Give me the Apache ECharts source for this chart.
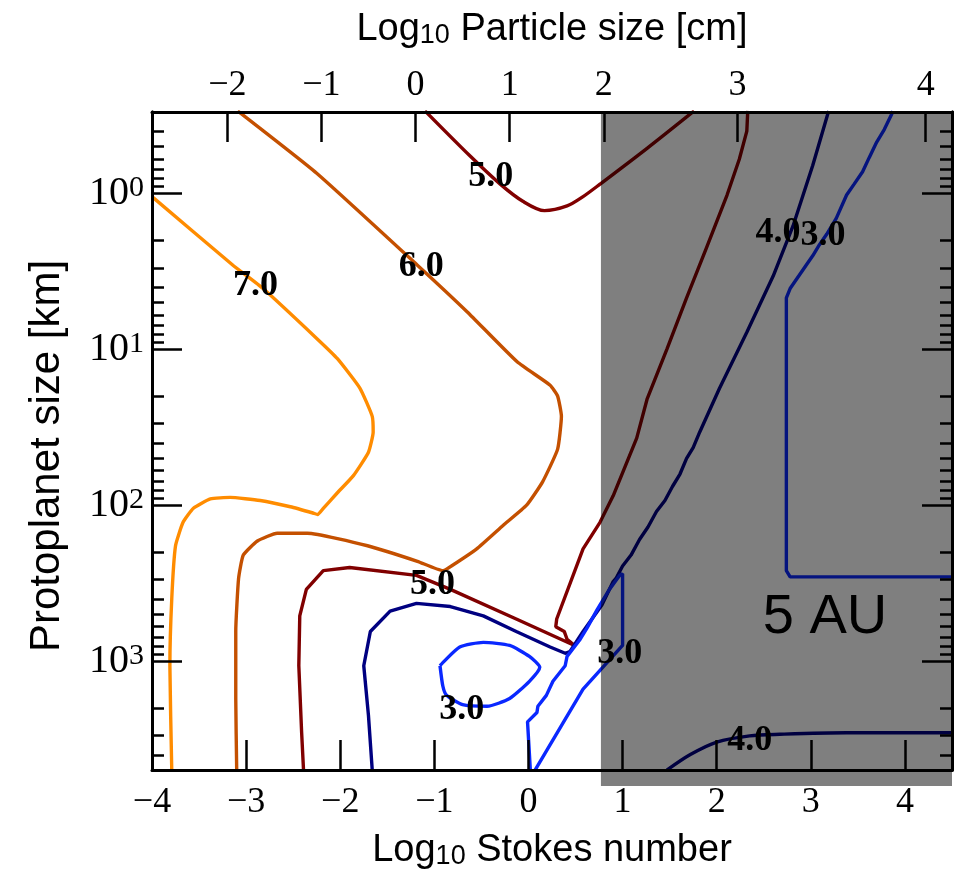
<!DOCTYPE html>
<html>
<head>
<meta charset="utf-8">
<script src="https://cdn.jsdelivr.net/npm/echarts@6/dist/echarts.min.js"></script>
<style>
    html, body { margin: 0; padding: 0; background: #fff; }
    #chart { width: 958px; height: 869px; }
</style>
</head>
<body>
<div id="chart"></div>
<script>
    // x = log10 Stokes number, y = log10 protoplanet size [km]
    var xMin = -4, xMax = 4.5;
    var yMin = Math.log10(0.3), yMax = Math.log10(5000);
    var stTicks = [-4, -3, -2, -1, 0, 1, 2, 3, 4];
    var sizeTicks = [0, 1, 2, 3];
    var particleLabels = [-2, -1, 0, 1, 2, 3, 4];
    var particleTickSt = [-3.2, -2.2, -1.2, -0.2, 0.8, 2.22, 4.22];
    var grayStart = 0.77;

    // contour lines, [logSt, logR]
    var c7 = [[-4.0, 0.02], [-3.14, 0.46], [-2.82, 0.61], [-2.25, 0.93], [-2.03, 1.06], [-1.79, 1.25], [-1.66, 1.43],
        [-1.65, 1.53], [-1.70, 1.66], [-1.86, 1.81], [-2.03, 1.92], [-2.18, 2.02], [-2.24, 2.06], [-2.29, 2.05],
        [-2.53, 2.01], [-2.85, 1.97], [-3.17, 1.95], [-3.38, 1.96], [-3.56, 2.02], [-3.67, 2.11], [-3.75, 2.26],
        [-3.79, 2.60], [-3.81, 3.03], [-3.79, 3.70]];
    var c6 = [[-3.09, -0.53], [-2.25, -0.13], [-1.18, 0.46], [-0.65, 0.76], [-0.12, 1.08], [0.23, 1.23], [0.31, 1.30],
        [0.35, 1.43], [0.31, 1.64], [0.15, 1.85], [-0.02, 2.00], [-0.27, 2.13], [-0.55, 2.28], [-0.87, 2.41],
        [-0.91, 2.42], [-1.18, 2.36], [-1.71, 2.26], [-2.35, 2.18], [-2.67, 2.18], [-2.88, 2.23], [-3.03, 2.32],
        [-3.08, 2.47], [-3.11, 2.81], [-3.11, 3.24], [-3.10, 3.70]];
    var c5top = [[-1.10, -0.53], [-0.62, -0.24], [-0.30, -0.06], [-0.06, 0.05], [0.17, 0.11], [0.41, 0.08],
        [0.58, 0.02], [0.76, -0.06], [1.26, -0.29], [1.76, -0.53]];
    var c5 = [[-2.39, 3.70], [-2.41, 3.46], [-2.44, 3.03], [-2.43, 2.71], [-2.36, 2.54], [-2.18, 2.42], [-1.90, 2.40],
        [-1.19, 2.45], [-0.83, 2.54], [-0.13, 2.73], [0.49, 2.90], [0.41, 2.86], [0.38, 2.81], [0.29, 2.78],
        [0.30, 2.73], [0.58, 2.28], [0.76, 2.11], [0.90, 1.94], [1.15, 1.57], [1.26, 1.32], [1.47, 1.00],
        [1.68, 0.67], [1.89, 0.35], [2.11, 0.01], [2.24, -0.22], [2.32, -0.40], [2.33, -0.53]];
    var c4 = [[-1.66, 3.70], [-1.70, 3.35], [-1.75, 3.03], [-1.68, 2.81], [-1.47, 2.68], [-1.19, 2.63], [-0.83, 2.65],
        [-0.48, 2.71], [-0.13, 2.81], [0.23, 2.91], [0.39, 2.95], [0.44, 2.94], [0.58, 2.81], [0.78, 2.64],
        [0.90, 2.49], [0.93, 2.47], [1.00, 2.39], [1.09, 2.32], [1.18, 2.22], [1.27, 2.14], [1.36, 2.04],
        [1.45, 1.97], [1.53, 1.88], [1.61, 1.80], [1.68, 1.70], [1.75, 1.63], [1.82, 1.53],
        [2.03, 1.25], [2.32, 0.89], [2.60, 0.53], [2.81, 0.21], [3.02, -0.18], [3.18, -0.51], [3.19, -0.53]];
    var c4low = [[1.47, 3.70], [1.72, 3.60], [2.00, 3.52], [2.35, 3.48], [2.67, 3.47], [3.38, 3.46], [4.50, 3.46]];
    var c3loop = [[-0.94, 3.03], [-0.91, 3.01], [-0.73, 2.91], [-0.48, 2.88], [-0.20, 2.90], [0.01, 2.97], [0.12, 3.04],
        [0.01, 3.13], [-0.20, 3.24], [-0.44, 3.29], [-0.70, 3.28], [-0.87, 3.22], [-0.91, 3.16], [-0.94, 3.03]];
    var c3mid = [[0.02, 3.70], [-0.01, 3.39], [0.09, 3.33], [0.10, 3.29], [0.19, 3.22], [0.26, 3.13], [0.39, 3.03],
        [0.41, 2.97], [0.55, 2.86], [0.62, 2.79], [0.73, 2.67], [0.86, 2.54], [0.97, 2.45], [1.00, 2.44],
        [1.00, 2.90], [0.58, 3.18], [0.07, 3.70]];
    var c3right = [[4.50, 2.46], [2.78, 2.46], [2.74, 2.42], [2.74, 0.67], [2.78, 0.61], [2.95, 0.46], [3.02, 0.40],
        [3.09, 0.33], [3.17, 0.26], [3.27, 0.16], [3.38, 0.01], [3.46, -0.06], [3.55, -0.14], [3.62, -0.23],
        [3.70, -0.33], [3.78, -0.41], [3.86, -0.51], [3.87, -0.53]];

    var contourLabels = [[-2.90, 0.58, '7.0'], [-1.14, 0.46, '6.0'], [-0.40, -0.12, '5.0'], [-1.02, 2.50, '5.0'],
        [-0.71, 3.30, '3.0'], [0.97, 2.94, '3.0'], [2.65, 0.24, '4.0'], [3.13, 0.26, '3.0'], [2.35, 3.50, '4.0']];
    var panelLabel = [[3.15, 2.71, '5 AU']];

    var minorVals = [];
    for (var n = -1; n <= 3; n++) {
        for (var k = 2; k <= 9; k++) {
            var v = n + Math.log10(k);
            if (v > yMin + 0.01 && v < yMax - 0.01) minorVals.push(v);
        }
    }

    var serif = 'Liberation Serif';
    var sans = 'Liberation Sans';

    function minus(v) {
        return v < 0 ? '\u2212' + (-v) : '' + v;
    }

    function contour(data, color, smooth) {
        return {
            type: 'line', data: data, symbol: 'none', showSymbol: false, smooth: smooth || false,
            lineStyle: {color: color, width: 3.4}, z: 2, silent: true, animation: false
        };
    }

    // text placed at data coordinates
    function textSeries(data, font) {
        return {
            type: 'custom', z: 4, silent: true, clip: false, data: data,
            encode: {x: 0, y: 1},
            renderItem: function (params, api) {
                var p = api.coord([api.value(0), api.value(1)]);
                return {
                    type: 'text', x: p[0], y: p[1] + 2,
                    style: {text: data[params.dataIndex][2], fill: '#000', font: font, align: 'center', verticalAlign: 'middle'}
                };
            }
        };
    }

    var titleRich = {
        a: {fontFamily: sans, fontSize: 38, lineHeight: 38, verticalAlign: 'top', color: '#000'},
        s: {fontFamily: sans, fontSize: 27, lineHeight: 27, padding: [17, 0, 0, 0], verticalAlign: 'bottom', color: '#000'}
    };
    var axisLine = {show: true, onZero: false, lineStyle: {color: '#000', width: 3}};

    function yAxis(pos, ticks, len, labels) {
        return {
            type: 'value', position: pos, inverse: true, min: yMin, max: yMax, z: 10,
            axisLine: axisLine,
            axisTick: {show: true, inside: true, length: len, customValues: ticks, lineStyle: {color: '#000', width: 2.5}},
            axisLabel: labels ? {
                customValues: sizeTicks, margin: 8,
                formatter: function (v) { return '{b|10}{s|' + v + '}'; },
                rich: {
                    b: {fontFamily: serif, fontSize: 40, lineHeight: 40, padding: [9, 0, 0, 0], verticalAlign: 'bottom', color: '#000'},
                    s: {fontFamily: serif, fontSize: 30, lineHeight: 30, verticalAlign: 'top', color: '#000'}
                }
            } : {show: false},
            splitLine: {show: false}
        };
    }

    var chart = echarts.init(document.getElementById('chart'), null, {renderer: 'canvas'});
    var option = {
        backgroundColor: '#fff',
        animation: false,
        grid: {left: 152, right: 6, top: 112, bottom: 99, outerBoundsMode: 'none'},
        xAxis: [{
            type: 'value', position: 'bottom', min: xMin, max: xMax, z: 10,
            name: '{a|Log}{s|10}{a| Stokes number}', nameLocation: 'middle', nameGap: 50,
            nameTextStyle: {rich: titleRich},
            axisLine: axisLine,
            axisTick: {show: true, inside: true, length: 30, customValues: stTicks, lineStyle: {color: '#000', width: 2.5}},
            axisLabel: {customValues: stTicks, margin: 15, fontFamily: serif, fontSize: 36, color: '#000', formatter: minus},
            splitLine: {show: false}
        }, {
            type: 'value', position: 'top', min: xMin, max: xMax, z: 10,
            name: '{a|Log}{s|10}{a| Particle size [cm]}', nameLocation: 'middle', nameGap: 63,
            nameTextStyle: {rich: titleRich},
            axisLine: axisLine,
            axisTick: {show: true, inside: true, length: 30, customValues: particleTickSt, lineStyle: {color: '#000', width: 2.5}},
            axisLabel: {
                customValues: particleTickSt, margin: 8, fontFamily: serif, fontSize: 36, color: '#000',
                formatter: function (v) {
                    var best = 0;
                    for (var i = 0; i < particleTickSt.length; i++) {
                        if (Math.abs(particleTickSt[i] - v) < Math.abs(particleTickSt[best] - v)) best = i;
                    }
                    return minus(particleLabels[best]);
                }
            },
            splitLine: {show: false}
        }],
        yAxis: [
            Object.assign(yAxis('left', sizeTicks, 30, true), {
                name: 'Protoplanet size [km]', nameLocation: 'middle', nameGap: 84, nameRotate: 90,
                nameTextStyle: {fontFamily: sans, fontSize: 42, color: '#000', padding: [0, 30, 0, 0]}
            }),
            yAxis('left', minorVals, 12, false),
            yAxis('right', sizeTicks, 30, false),
            yAxis('right', minorVals, 12, false)
        ],
        series: [
            contour(c7, '#ff8c00', 0.15),
            contour(c6, '#c45000', 0.15),
            contour(c5top, '#800000', 0.3),
            contour(c5, '#800000', false),
            contour(c4, '#000080', false),
            contour(c4low, '#000080', 0.3),
            contour(c3loop, '#0a28ff', 0.2),
            contour(c3mid, '#0a28ff', false),
            contour(c3right, '#0a28ff', false),
            {
                // shaded region (particles larger than 1 m), drawn over the lines
                type: 'custom', z: 3, silent: true, clip: false,
                data: [[grayStart, xMax]],
                encode: {x: [0, 1]},
                renderItem: function (params, api) {
                    var p0 = api.coord([api.value(0), yMin]);
                    var p1 = api.coord([api.value(1), yMax]);
                    return {
                        type: 'rect',
                        shape: {x: p0[0], y: p0[1], width: p1[0] - p0[0], height: p1[1] - p0[1] + 16},
                        style: {fill: 'rgba(0,0,0,0.5)'}
                    };
                }
            },
            textSeries(contourLabels, 'bold 36px "Liberation Serif"'),
            textSeries(panelLabel, '56px "Liberation Sans"')
        ]
    };
    chart.setOption(option);
</script>
</body>
</html>
